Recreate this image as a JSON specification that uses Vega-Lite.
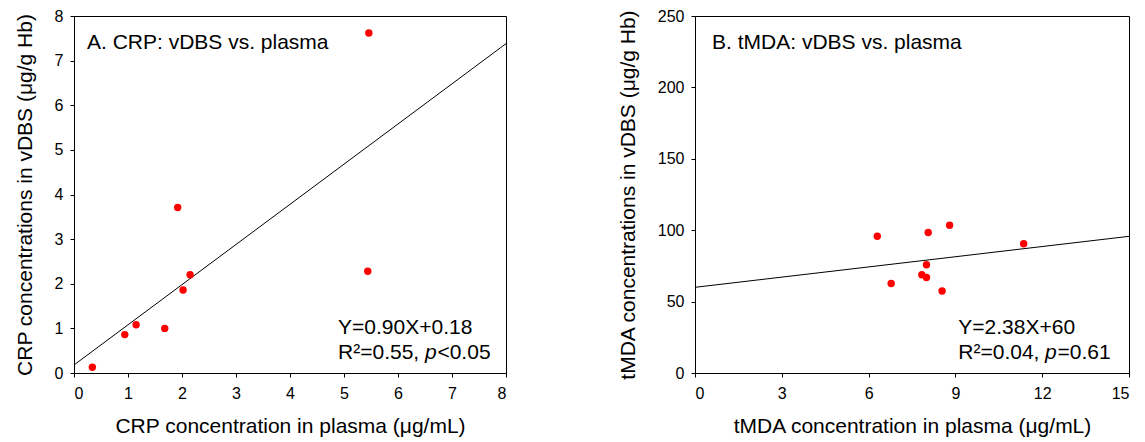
{
  "$schema": "https://vega.github.io/schema/vega-lite/v6.json",
  "padding": {"left": 13, "top": 7, "right": 4, "bottom": 2},
  "background": "white",
  "datasets": {
    "crp_points": [
      {"x": 0.34, "y": 0.13},
      {"x": 0.94, "y": 0.86},
      {"x": 1.15, "y": 1.08},
      {"x": 1.68, "y": 1.0},
      {"x": 1.92, "y": 3.71},
      {"x": 2.02, "y": 1.86},
      {"x": 2.15, "y": 2.2},
      {"x": 5.46, "y": 7.62},
      {"x": 5.44, "y": 2.28}
    ],
    "crp_fit": [
      {"x": 0, "y": 0.18},
      {"x": 8, "y": 7.38}
    ],
    "crp_text": [
      {"x": 0.24, "y": 7.4, "label": "A. CRP: vDBS vs. plasma"},
      {"x": 4.89, "y": 1.01, "label": "Y=0.90X+0.18"},
      {"x": 4.89, "y": 0.45, "label": "R²=0.55, "},
      {"x": 6.73, "y": 0.45, "label": "<0.05"}
    ],
    "crp_italic": [
      {"x": 6.5, "y": 0.45, "label": "p"}
    ],
    "tmda_points": [
      {"x": 6.3, "y": 95.8},
      {"x": 6.78, "y": 62.7},
      {"x": 7.84, "y": 68.8},
      {"x": 8.0, "y": 66.9},
      {"x": 8.0, "y": 75.8},
      {"x": 8.06, "y": 98.4},
      {"x": 8.8, "y": 103.5},
      {"x": 8.54, "y": 57.4},
      {"x": 11.36, "y": 90.5}
    ],
    "tmda_fit": [
      {"x": 0, "y": 60},
      {"x": 15, "y": 95.7}
    ],
    "tmda_text": [
      {"x": 0.59, "y": 231, "label": "B. tMDA: vDBS vs. plasma"},
      {"x": 9.1, "y": 31.5, "label": "Y=2.38X+60"},
      {"x": 9.1, "y": 14, "label": "R²=0.04, "},
      {"x": 12.53, "y": 14, "label": "=0.61"}
    ],
    "tmda_italic": [
      {"x": 12.1, "y": 14, "label": "p"}
    ]
  },
  "hconcat": [
    {
      "width": 432,
      "height": 357,
      "encoding": {
        "x": {
          "field": "x",
          "type": "quantitative",
          "scale": {"domain": [0, 8], "nice": false},
          "axis": {"title": "CRP concentration in plasma (μg/mL)", "values": [0, 1, 2, 3, 4, 5, 6, 7, 8]}
        },
        "y": {
          "field": "y",
          "type": "quantitative",
          "scale": {"domain": [0, 8], "nice": false},
          "axis": {"title": "CRP concentrations in vDBS (μg/g Hb)", "values": [0, 1, 2, 3, 4, 5, 6, 7, 8]}
        }
      },
      "layer": [
        {"data": {"name": "crp_fit"}, "mark": {"type": "line", "color": "black", "strokeWidth": 1}},
        {"data": {"name": "crp_points"}, "mark": {"type": "circle", "color": "#ff0000", "size": 55, "opacity": 1}},
        {
          "data": {"name": "crp_text"},
          "mark": {"type": "text", "align": "left", "baseline": "middle", "fontSize": 21, "color": "black"},
          "encoding": {"text": {"field": "label"}}
        },
        {
          "data": {"name": "crp_italic"},
          "mark": {"type": "text", "align": "left", "baseline": "middle", "fontSize": 21, "fontStyle": "italic", "color": "black"},
          "encoding": {"text": {"field": "label"}}
        }
      ]
    },
    {
      "width": 434,
      "height": 357,
      "encoding": {
        "x": {
          "field": "x",
          "type": "quantitative",
          "scale": {"domain": [0, 15], "nice": false},
          "axis": {"title": "tMDA concentration in plasma (μg/mL)", "values": [0, 3, 6, 9, 12, 15]}
        },
        "y": {
          "field": "y",
          "type": "quantitative",
          "scale": {"domain": [0, 250], "nice": false},
          "axis": {"title": "tMDA concentrations in vDBS (μg/g Hb)", "values": [0, 50, 100, 150, 200, 250]}
        }
      },
      "layer": [
        {"data": {"name": "tmda_fit"}, "mark": {"type": "line", "color": "black", "strokeWidth": 1}},
        {"data": {"name": "tmda_points"}, "mark": {"type": "circle", "color": "#ff0000", "size": 55, "opacity": 1}},
        {
          "data": {"name": "tmda_text"},
          "mark": {"type": "text", "align": "left", "baseline": "middle", "fontSize": 21, "color": "black"},
          "encoding": {"text": {"field": "label"}}
        },
        {
          "data": {"name": "tmda_italic"},
          "mark": {"type": "text", "align": "left", "baseline": "middle", "fontSize": 21, "fontStyle": "italic", "color": "black"},
          "encoding": {"text": {"field": "label"}}
        }
      ]
    }
  ],
  "spacing": 107,
  "config": {
    "font": "Liberation Sans",
    "view": {"stroke": "black", "strokeWidth": 1},
    "axis": {
      "grid": false,
      "domainColor": "black",
      "domainWidth": 1,
      "tickColor": "black",
      "tickWidth": 1,
      "tickSize": 4,
      "labelColor": "black",
      "titleColor": "black",
      "labelFont": "Liberation Sans",
      "titleFont": "Liberation Sans",
      "labelFontSize": 16,
      "titleFontSize": 21,
      "titleFontWeight": "normal"
    },
    "axisX": {"labelPadding": 8, "titlePadding": 14},
    "axisY": {"labelPadding": 7, "titlePadding": 19}
  }
}
